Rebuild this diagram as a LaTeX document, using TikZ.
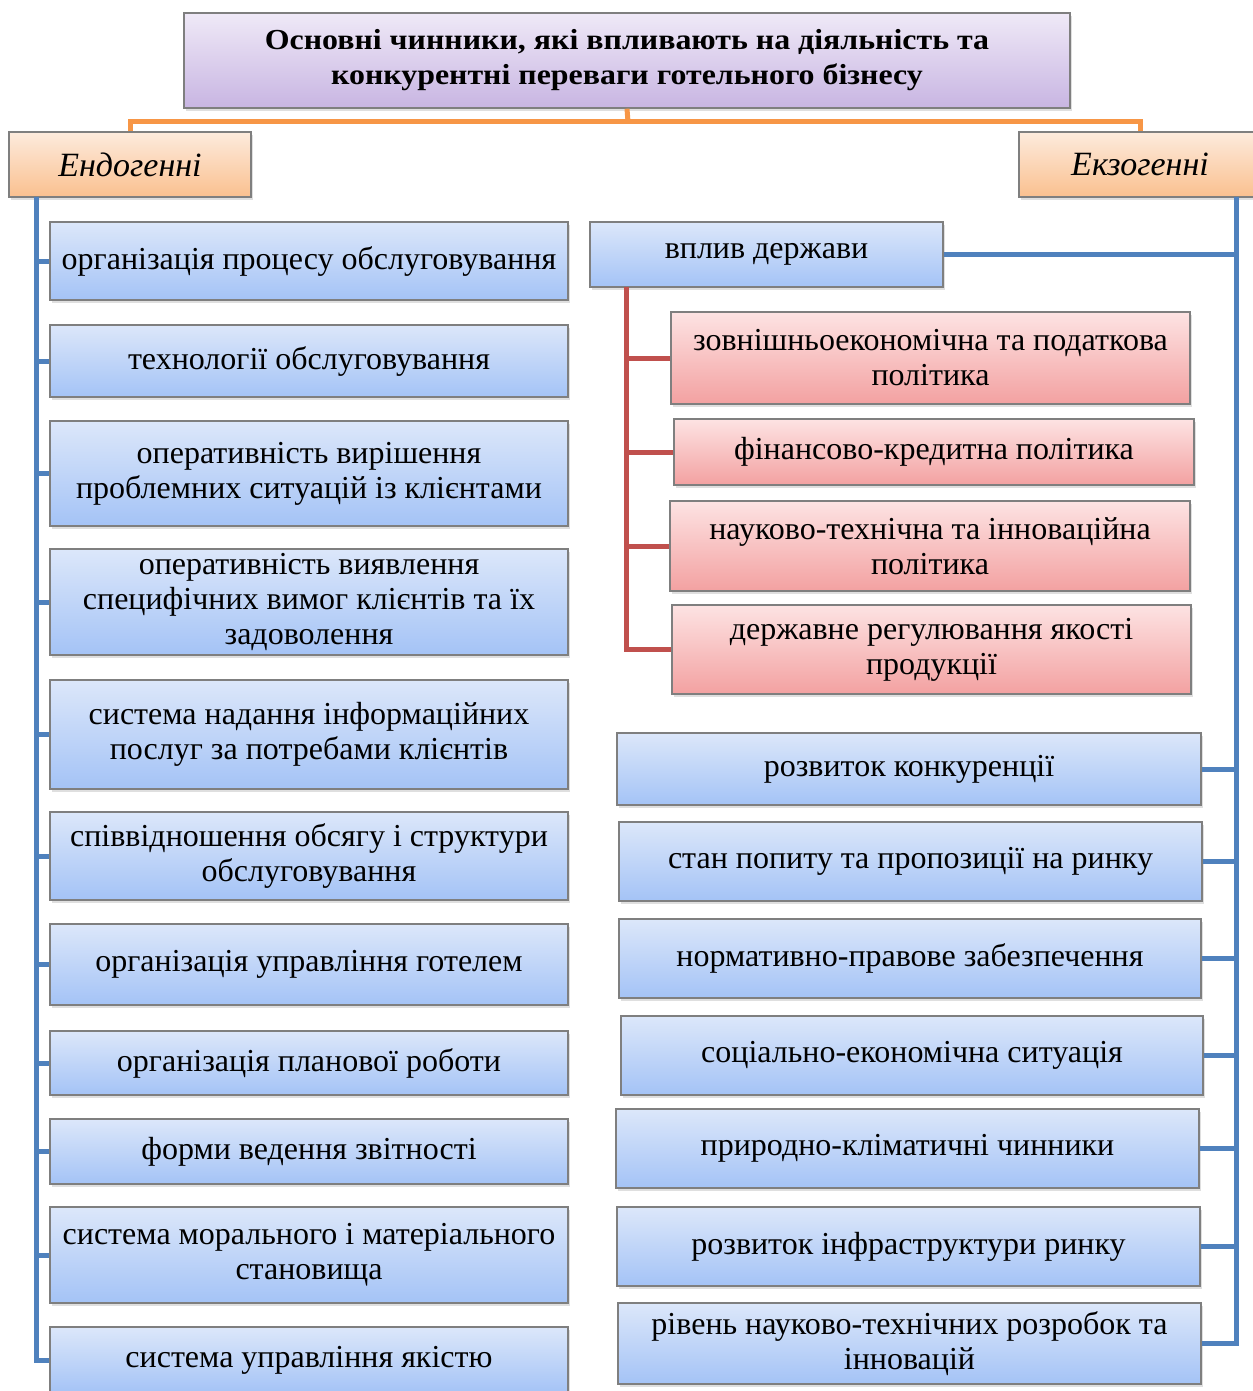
\documentclass[tikz,border=0pt]{standalone}
\usepackage{fontspec}
\setmainfont{Liberation Serif}
\newfontfamily\titlefont[FakeStretch=1.1]{Liberation Serif}
\usetikzlibrary{shadows}
\definecolor{bTop}{HTML}{DCE7FA}
\definecolor{bBot}{HTML}{A4C3F6}
\definecolor{rTop}{HTML}{FDE3E3}
\definecolor{rBot}{HTML}{F3A1A1}
\definecolor{oTop}{HTML}{FDEBDD}
\definecolor{oBot}{HTML}{FAC08F}
\definecolor{vTop}{HTML}{EFE9F7}
\definecolor{vBot}{HTML}{C8B5E2}
\definecolor{edge}{HTML}{7F7F7F}
\definecolor{lBlue}{HTML}{4F81BD}
\definecolor{lRed}{HTML}{C0504D}
\definecolor{lOrange}{HTML}{F79646}
\tikzset{
  box/.style={draw=edge, line width=1.4pt, inner sep=0pt, align=center,
    font=\fontsize{32}{35}\selectfont,
    drop shadow={shadow xshift=1.5pt, shadow yshift=-3pt, opacity=0.25}},
  bluebox/.style={box, top color=bTop, bottom color=bBot},
  redbox/.style={box, top color=rTop, bottom color=rBot},
  orbox/.style={box, top color=oTop, bottom color=oBot, font=\fontsize{34}{38}\selectfont\itshape},
  titlebox/.style={box, top color=vTop, bottom color=vBot, font=\titlefont\fontsize{29}{35}\selectfont\bfseries},
  bl/.style={draw=lBlue, line width=5pt},
  rl/.style={draw=lRed, line width=5pt},
  ol/.style={draw=lOrange, line width=5pt},
}
\begin{document}
\begin{tikzpicture}[x=1pt,y=-1pt]
\useasboundingbox[fill=white] (0,0) rectangle (1252,1391);

\coordinate (bus) at (628,122);
\coordinate (lt) at (36,197);
\coordinate (rt) at (1236,197);
\coordinate (rd) at (626,287);

\node[titlebox, minimum width=886pt, minimum height=95pt] (title) at (627,60.5)
  {Основні чинники, які впливають на діяльність та\\конкурентні переваги готельного бізнесу};
\node[orbox, minimum width=242pt, minimum height=65pt] (endo) at (130,164.5) {Ендогенні};
\node[orbox, minimum width=242pt, minimum height=65pt] (exo) at (1140,164.5) {Екзогенні};

\node[bluebox, minimum width=518pt, minimum height=78pt] (L1) at (309,261) {організація процесу обслуговування};
\node[bluebox, minimum width=518pt, minimum height=72pt] (L2) at (309,361) {технології обслуговування};
\node[bluebox, minimum width=518pt, minimum height=105pt] (L3) at (309,473.5) {оперативність вирішення\\проблемних ситуацій із клієнтами};
\node[bluebox, minimum width=518pt, minimum height=106pt] (L4) at (309,602) {оперативність виявлення\\специфічних вимог клієнтів та їх\\задоволення};
\node[bluebox, minimum width=518pt, minimum height=109pt] (L5) at (309,734.5) {система надання інформаційних\\послуг за потребами клієнтів};
\node[bluebox, minimum width=518pt, minimum height=88pt] (L6) at (309,856) {співвідношення обсягу і структури\\обслуговування};
\node[bluebox, minimum width=518pt, minimum height=81pt] (L7) at (309,964.5) {організація управління готелем};
\node[bluebox, minimum width=518pt, minimum height=64pt] (L8) at (309,1063) {організація планової роботи};
\node[bluebox, minimum width=518pt, minimum height=65pt] (L9) at (309,1151.5) {форми ведення звітності};
\node[bluebox, minimum width=518pt, minimum height=96pt] (L10) at (309,1255) {система морального і матеріального\\становища};
\node[bluebox, minimum width=518pt, minimum height=66pt] (L11) at (309,1360) {система управління якістю};

\node[bluebox, minimum width=353pt, minimum height=65pt] (V) at (766.5,254.5) {вплив держави};
\node[redbox, minimum width=519pt, minimum height=92pt] (P1) at (930.5,358) {зовнішньоекономічна та податкова\\політика};
\node[redbox, minimum width=520pt, minimum height=66pt] (P2) at (934,452) {фінансово-кредитна політика};
\node[redbox, minimum width=520pt, minimum height=90pt] (P3) at (930,546) {науково-технічна та інноваційна\\політика};
\node[redbox, minimum width=519pt, minimum height=89pt] (P4) at (931.5,649.5) {державне регулювання якості\\продукції};

\node[bluebox, minimum width=584pt, minimum height=72pt] (R1) at (909,769) {розвиток конкуренції};
\node[bluebox, minimum width=583pt, minimum height=79pt] (R2) at (910.5,861.5) {стан попиту та пропозиції на ринку};
\node[bluebox, minimum width=582pt, minimum height=79pt] (R3) at (910,958.5) {нормативно-правове забезпечення};
\node[bluebox, minimum width=582pt, minimum height=79pt] (R4) at (912,1055.5) {соціально-економічна ситуація};
\node[bluebox, minimum width=583pt, minimum height=79pt] (R5) at (907.5,1148.5) {природно-кліматичні чинники};
\node[bluebox, minimum width=583pt, minimum height=79pt] (R6) at (908.5,1246.5) {розвиток інфраструктури ринку};
\node[bluebox, minimum width=583pt, minimum height=81pt] (R7) at (909.5,1343.5) {рівень науково-технічних розробок та\\інновацій};

\draw[ol] (title.south) -- (bus);
\draw[ol] (endo.north) |- (bus) -| (exo.north);

\draw[bl] (lt) |- (L11.west);
\foreach \n in {L1,L2,L3,L4,L5,L6,L7,L8,L9,L10}
  \draw[bl] (\n.west) -- (\n.west -| lt);

\draw[bl] (rt) |- (R7.east);
\draw[bl] (V.east) -- (V.east -| rt);
\foreach \n in {R1,R2,R3,R4,R5,R6}
  \draw[bl] (\n.east) -- (\n.east -| rt);

\draw[rl] (rd) |- (P4.west);
\foreach \n in {P1,P2,P3}
  \draw[rl] (\n.west) -- (\n.west -| rd);
\end{tikzpicture}
\end{document}
